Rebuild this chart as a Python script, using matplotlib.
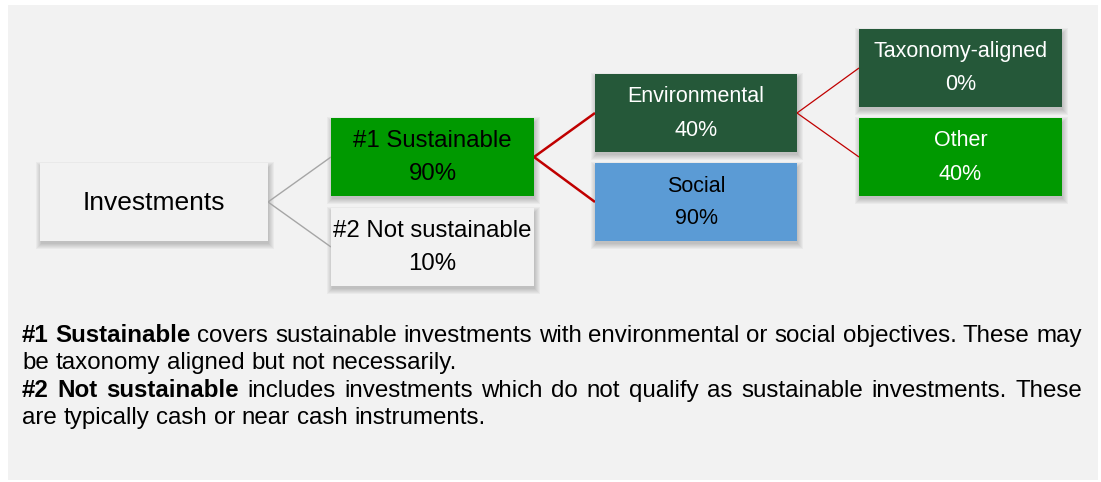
import matplotlib
matplotlib.use("Agg")
import matplotlib.pyplot as plt
from matplotlib.patches import Rectangle

plt.rcParams['font.family'] = ['Liberation Sans', 'DejaVu Sans']

# tree data
labels = ["Investments", "#1 Sustainable", "#2 Not sustainable",
          "Environmental", "Social", "Taxonomy-aligned", "Other"]
shares = [None, 90, 10, 40, 90, 0, 40]
parents = [None, 0, 0, 1, 1, 3, 3]
levels = [0, 1, 1, 2, 2, 3, 3]

notes = [
    [("#1 Sustainable", True), ("covers sustainable investments with environmental or social "
                                "objectives. These may be taxonomy aligned but not necessarily.", False)],
    [("#2 Not sustainable", True), ("includes investments which do not qualify as sustainable "
                                    "investments. These are typically cash or near cash instruments.", False)],
]
note_breaks = [12, 13]  # number of words on the first line of each paragraph

# layout (pixels)
W, H = 1101, 482
col_x = [40, 331, 595, 859]
col_w = [228, 203, 202, 203]
box_h = 78
box_top = [163, 118, 208, 74, 163, 29, 118]
fills = ["#f2f2f2", "#009900", "#f2f2f2", "#255839", "#5b9bd5", "#255839", "#009900"]
txt_col = ["black", "black", "black", "white", "black", "white", "white"]
txt_size = [19, 17.3, 17.3, 15.5, 15.5, 15.5, 15.5]
link_style = {1: ("#a6a6a6", 1.0), 2: ("#c00000", 1.8), 3: ("#c00000", 0.9)}

fig = plt.figure(figsize=(W / 100, H / 100), dpi=100)
ax = fig.add_axes([0, 0, 1, 1])
ax.set_xlim(0, W)
ax.set_ylim(H, 0)
ax.axis("off")

ax.add_patch(Rectangle((8, 5), 1090, 475, facecolor="#f2f2f2", edgecolor="none", zorder=0))

boxes = []
for i, lab in enumerate(labels):
    lv = levels[i]
    x0, w, y0 = col_x[lv], col_w[lv], box_top[i]
    boxes.append((x0, y0, w, box_h))
    # soft shadow
    for k in range(6, 0, -1):
        ax.add_patch(Rectangle((x0 - k + 2, y0 - k + 5), w + 2 * k - 2, box_h + 2 * k - 3,
                               facecolor="black", edgecolor="none", alpha=0.035, zorder=1))
    ax.add_patch(Rectangle((x0, y0), w, box_h, facecolor=fills[i], edgecolor="none", zorder=2))
    cx, cy = x0 + w / 2, y0 + box_h / 2
    if shares[i] is None:
        ax.text(cx, cy + 1, lab, ha="center", va="center", fontsize=txt_size[i],
                color=txt_col[i], zorder=3)
    else:
        ax.text(cx, cy - 16, lab, ha="center", va="center", fontsize=txt_size[i],
                color=txt_col[i], zorder=3)
        ax.text(cx, cy + 17, f"{shares[i]}%", ha="center", va="center", fontsize=txt_size[i],
                color=txt_col[i], zorder=3)

# connectors
for i, p in enumerate(parents):
    if p is None:
        continue
    px, py, pw, ph = boxes[p]
    cx, cy, cw, ch = boxes[i]
    col, lw = link_style[levels[i]]
    ax.plot([px + pw, cx], [py + ph / 2, cy + ch / 2], color=col, lw=lw, zorder=1.5,
            solid_capstyle="butt")

# justified footnote
renderer = fig.canvas.get_renderer()
left, right = 22, 1082
base_y = [342, 369, 397, 424]
fs = 17.4


def word_width(word, bold):
    t = ax.text(0, 0, word, fontsize=fs, fontweight="bold" if bold else "normal")
    wdt = t.get_window_extent(renderer).width
    t.remove()
    return wdt


space_w = word_width("a b", False) - word_width("ab", False)
line_no = 0
for para, brk in zip(notes, note_breaks):
    words = []
    for chunk, bold in para:
        words += [(wd, bold) for wd in chunk.split()]
    lines = [words[:brk], words[brk:]]
    for j, line in enumerate(lines):
        widths = [word_width(wd, b) for wd, b in line]
        if j == 0:
            gap = (right - left - sum(widths)) / (len(line) - 1)
        else:
            gap = space_w
        x = left
        for (wd, b), wdt in zip(line, widths):
            ax.text(x, base_y[line_no], wd, fontsize=fs, fontweight="bold" if b else "normal",
                    ha="left", va="baseline", color="black")
            x += wdt + gap
        line_no += 1

fig.savefig("out.png", dpi=100, facecolor="white")
